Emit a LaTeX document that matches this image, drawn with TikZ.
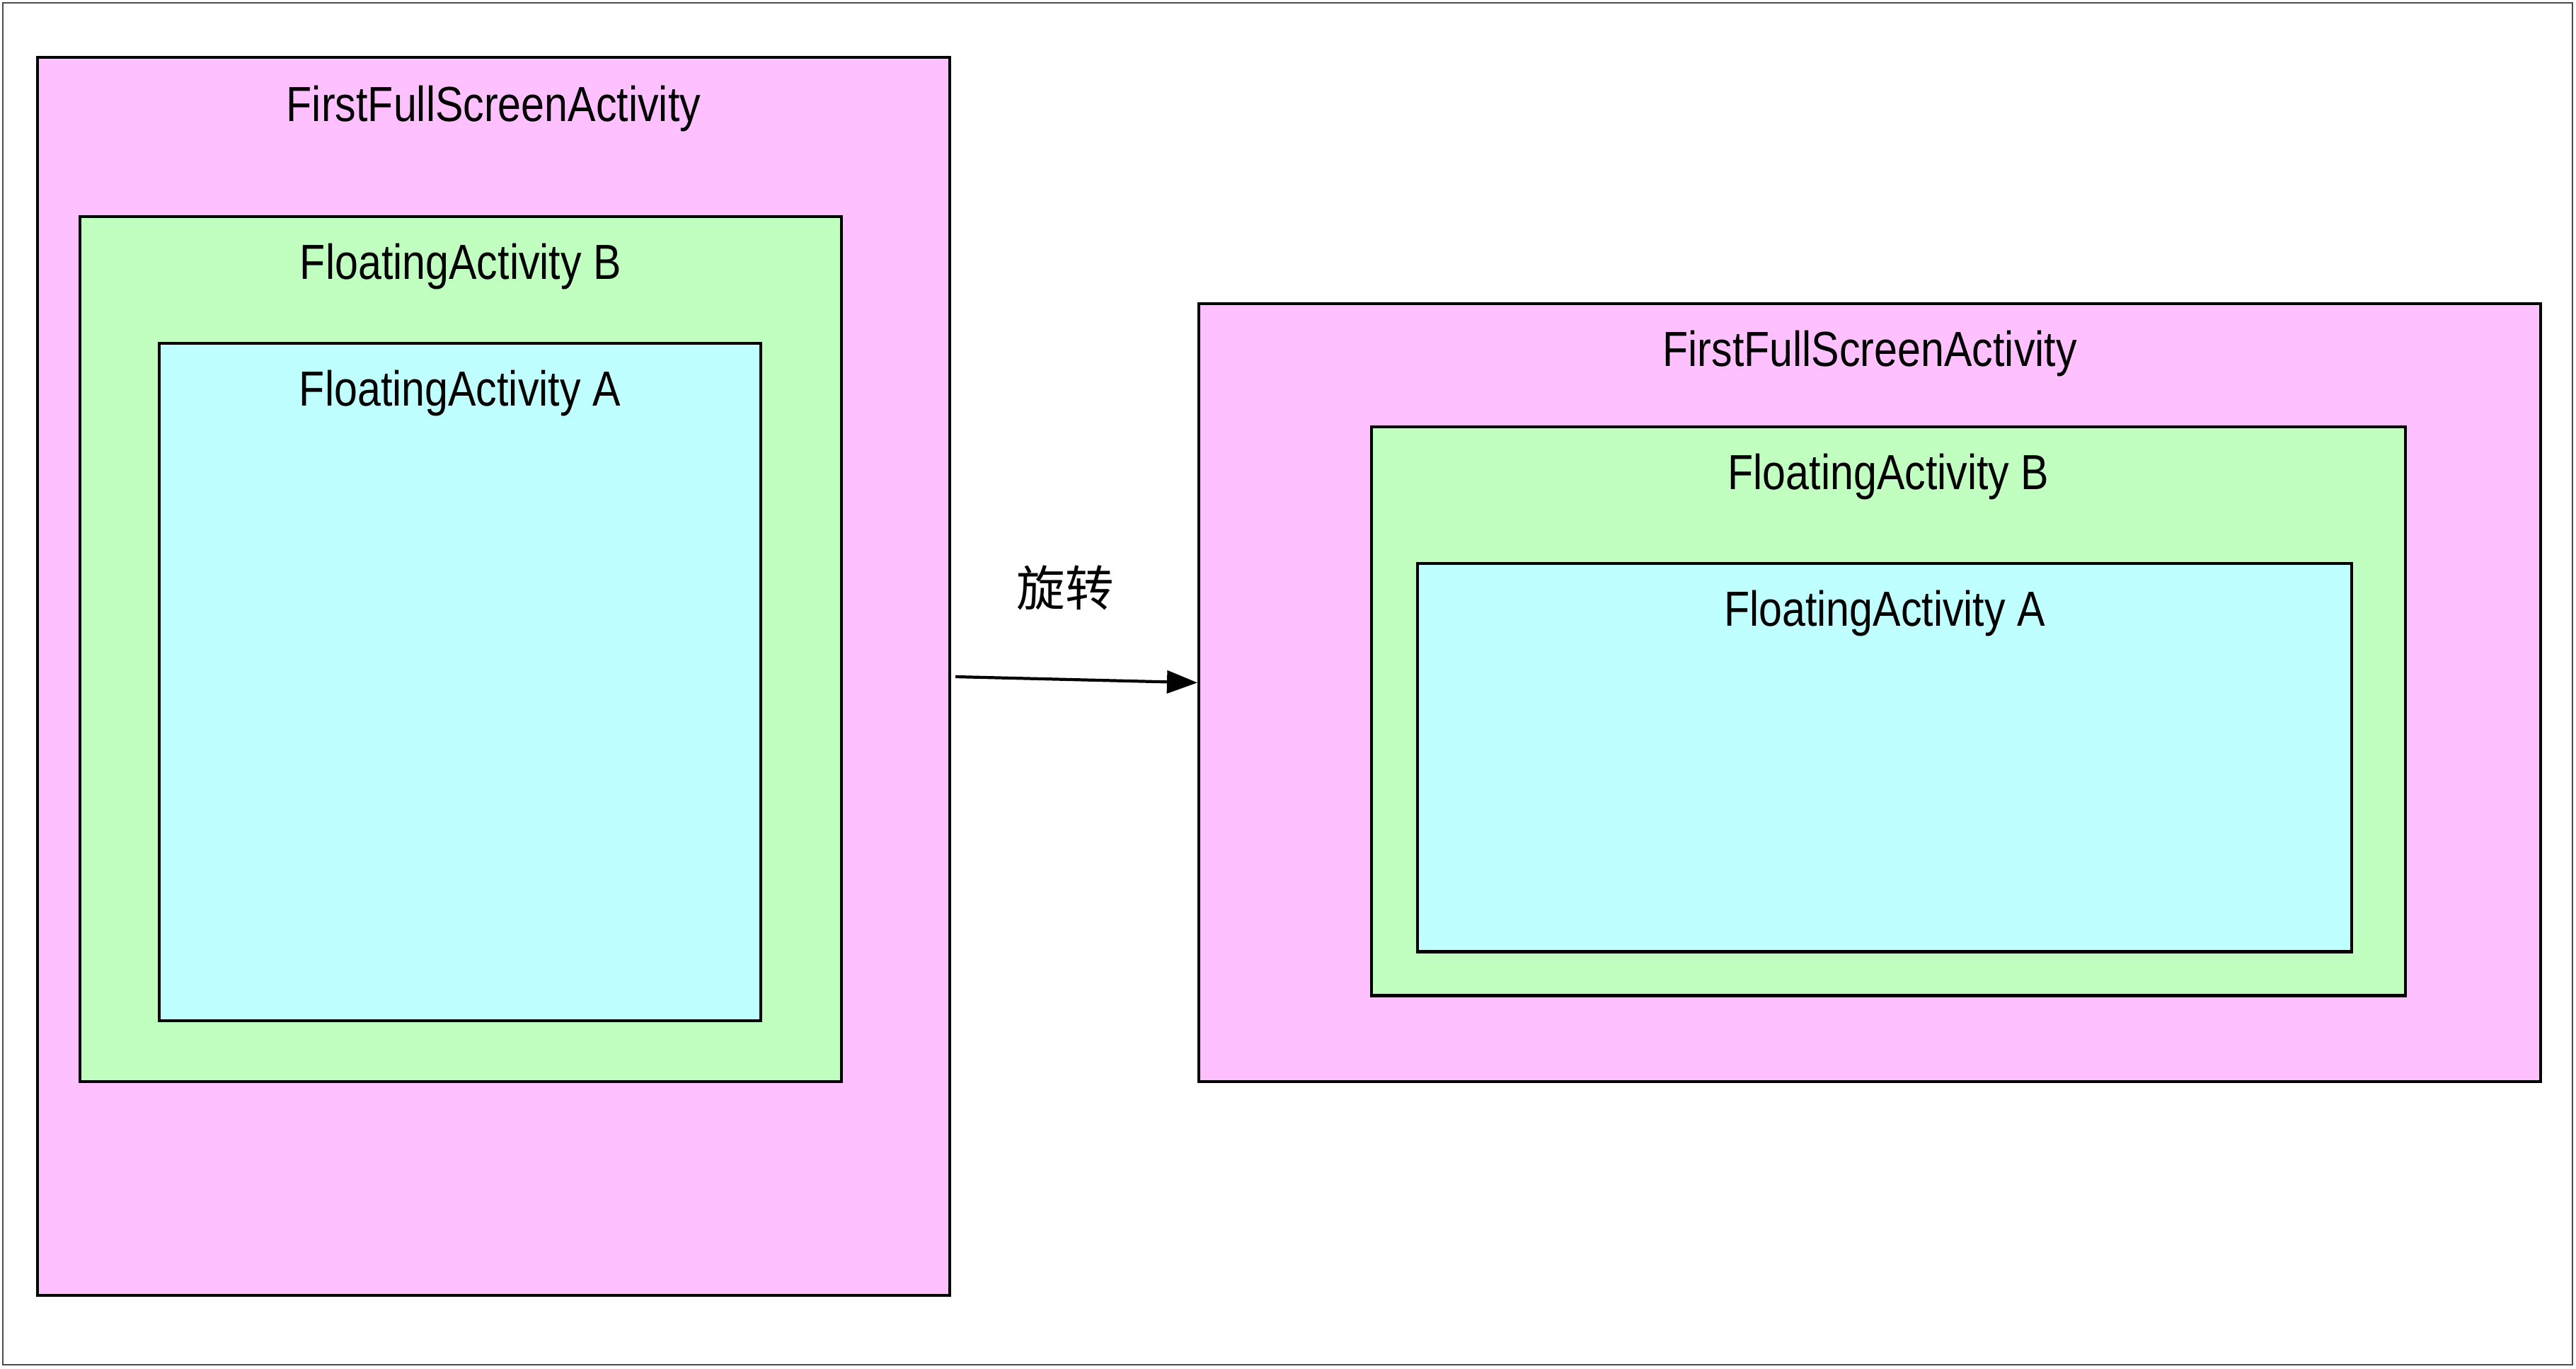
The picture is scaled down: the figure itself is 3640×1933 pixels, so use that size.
\documentclass[tikz,border=0pt]{standalone}
\usepackage{fontspec}
\setmainfont[FakeStretch=0.85]{Liberation Sans}
\newfontfamily\cjkfont{Noto Sans CJK SC}
\usetikzlibrary{positioning,arrows.meta}
\definecolor{fullpink}{RGB}{255,192,255}
\definecolor{floatgreen}{RGB}{192,255,192}
\definecolor{floatcyan}{RGB}{192,255,255}

\begin{document}
\begin{tikzpicture}[
    x=0.01cm, y=-0.01cm,
    font=\fontsize{19.8pt}{24pt}\selectfont,
    box/.style={draw, line width=1.2pt, anchor=north west, inner sep=0pt},
    full/.style={box, fill=fullpink},
    floatb/.style={box, fill=floatgreen},
    floata/.style={box, fill=floatcyan},
    title/.style={anchor=base, inner sep=0pt},
    rot/.style={-{Triangle[length=0.43cm, width=0.32cm]}, line width=1.2pt}]

  % ---- frame --------------------------------------------------------------
  \useasboundingbox (0,0) rectangle (3640,1933);
  \draw[gray!60!black, line width=0.6pt] (4,4) rectangle (3635,1928);

  % ---- left: portrait -----------------------------------------------------
  \node[full, minimum width=12.88cm, minimum height=17.48cm]  (full1)   at (51,79)   {};
  \node[floatb, minimum width=10.75cm, minimum height=12.21cm] (floatB1) at (111,304) {};
  \node[floata, minimum width=8.49cm, minimum height=9.56cm]   (floatA1) at (223,483) {};
  \node[title] (full1lbl)   at ([yshift=-0.92cm]full1.north)   {FirstFullScreenActivity};
  \node[title] (floatB1lbl) at ([yshift=-0.9cm]floatB1.north) {FloatingActivity B};
  \node[title] (floatA1lbl) at ([yshift=-0.9cm]floatA1.north) {FloatingActivity A};

  % ---- right: landscape ---------------------------------------------------
  \node[full, minimum width=18.95cm, minimum height=10.98cm]  (full2)   at (1692,427) {};
  \node[floatb, minimum width=14.60cm, minimum height=8.03cm] (floatB2) at (1936,601) {};
  \node[floata, minimum width=13.19cm, minimum height=5.48cm] (floatA2) at (2001,794) {};
  \node[title] (full2lbl)   at ([yshift=-0.9cm]full2.north)   {FirstFullScreenActivity};
  \node[title] (floatB2lbl) at ([yshift=-0.9cm]floatB2.north) {FloatingActivity B};
  \node[title] (floatA2lbl) at ([yshift=-0.9cm]floatA2.north) {FloatingActivity A};

  % ---- rotation arrow -----------------------------------------------------
  \coordinate (rotstart) at (1350,956);
  \draw[rot] (rotstart) -- ([yshift=0.14cm]full2.west);
  \node[font=\cjkfont\fontsize{19.5pt}{24pt}\selectfont] (rotlbl) at (1505,830) {旋转};
\end{tikzpicture}
\end{document}
